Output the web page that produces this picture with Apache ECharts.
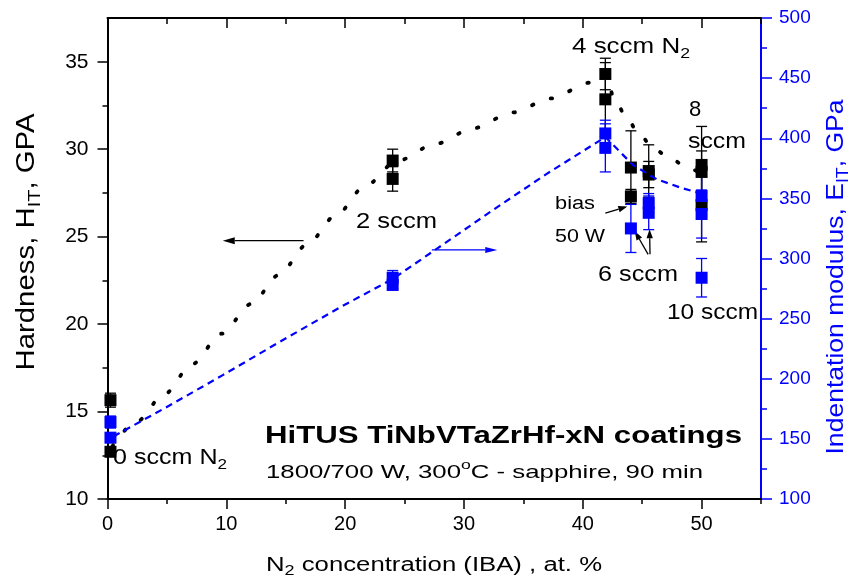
<!DOCTYPE html>
<html><head><meta charset="utf-8">
<script src="https://cdn.jsdelivr.net/npm/echarts@6/dist/echarts.min.js"></script>
<style>html,body{margin:0;padding:0;background:#fff}#c{width:854px;height:586px}</style>
</head><body><div id="c"></div>
<script>
// ---- tick values ----
const xTicks = [0, 10, 20, 30, 40, 50];
const xMinorTicks = [5, 15, 25, 35, 45, 55];
const hTicks = [10, 15, 20, 25, 30, 35];
const hMinorTicks = [12.5, 17.5, 22.5, 27.5, 32.5];
const eTicks = [100, 150, 200, 250, 300, 350, 400, 450, 500];
const eMinorTicks = [125, 175, 225, 275, 325, 375, 425, 475];

// ---- hardness (left axis) ----
const hardX   = [0.25, 0.25, 24.0, 24.0, 41.9, 41.9, 44.05, 44.05, 45.55, 45.55, 50, 50, 50];
const hardVal = [15.65, 12.7, 29.35, 28.3, 34.3, 32.85, 28.95, 27.3, 28.75, 28.55, 29.1, 28.7, 26.8];
const hardErr = [0.4, 0.2, 0.65, 0.7, 0.9, 2.1, 2.1, 0.4, 1.5, 0.75, 2.2, 1.2, 2.1];

// ---- indentation modulus (right axis) ----
const modX   = [0.25, 0.25, 24.0, 24.0, 41.9, 41.9, 44.05, 45.55, 45.55, 50, 50, 50];
const modVal = [164, 151, 284, 278, 404, 392, 325, 346, 338, 352, 337, 284];
const modErr = [5, 4, 6, 3, 11, 20, 20, 8, 14, 16, 20, 16];

// ---- trend lines ----
const hardTrendX   = [0.4, 2.4, 4.8, 7.1, 9.6, 12.1, 14.4, 16.8, 19.2, 21.7, 24.3, 27.6, 30.8, 34.1, 37.3, 40.6, 41.9, 42.7, 43.7, 44.7, 46.0, 47.4, 48.9, 50];
const hardTrendVal = [13.0, 14.4, 16.0, 17.7, 19.45, 21.15, 22.8, 24.55, 26.2, 27.9, 29.3, 30.3, 31.2, 32.1, 32.9, 33.8, 34.3, 32.8, 31.8, 30.9, 30.0, 29.45, 28.9, 28.6];
const modTrendX   = [0.5, 4.9, 9.7, 14.2, 19.5, 24.0, 27.7, 32.4, 36.9, 41.9, 44.2, 46.2, 48.2, 50];
const modTrendVal = [152, 176, 203, 229, 259, 283, 308, 340, 370, 401, 378, 366, 359, 354];

const FONT = '"Liberation Sans", Arial, sans-serif';
const BLUE = '#0000ff';
const BLACK = '#000000';

const chart = echarts.init(document.getElementById('c'), null, {renderer: 'canvas'});

function xAxisCfg(pos, ticks, len, inside, line, labels) {
  return {
    type: 'value', gridIndex: 0, position: pos, min: 0, max: 55, interval: 10,
    axisLine: {show: line, onZero: false, lineStyle: {color: BLACK, width: 2}},
    axisTick: {show: true, inside: inside, length: len, customValues: ticks, lineStyle: {color: BLACK, width: 1.5}},
    axisLabel: labels ? {show: true, customValues: xTicks, fontSize: 20, fontFamily: FONT, color: BLACK, margin: 15}
                      : {show: false},
    minorTick: {show: false}, splitLine: {show: false}
  };
}
function yAxisCfg(pos, min, max, interval, ticks, len, color, line, labels, fs, margin) {
  return {
    type: 'value', gridIndex: 0, position: pos, min: min, max: max, interval: interval,
    axisLine: {show: line, onZero: false, lineStyle: {color: color, width: 2}},
    axisTick: {show: true, inside: false, length: len, customValues: ticks, lineStyle: {color: color, width: 1.5}},
    axisLabel: labels ? {show: true, customValues: labels, fontSize: fs, fontFamily: FONT, color: color, margin: margin}
                      : {show: false},
    minorTick: {show: false}, splitLine: {show: false}
  };
}

function errSeries(xs, vs, es, yAxisIndex, color) {
  return {
    type: 'custom', xAxisIndex: 0, yAxisIndex: yAxisIndex, silent: true,
    data: xs.map((x, i) => [x, vs[i], es[i]]),
    encode: {x: 0, y: 1},
    renderItem: function (params, api) {
      const x = api.value(0), v = api.value(1), e = api.value(2);
      const t = api.coord([x, v + e]), b = api.coord([x, v - e]);
      const hw = 5.5, st = {stroke: color, lineWidth: 1.3};
      return {type: 'group', children: [
        {type: 'line', shape: {x1: t[0], y1: t[1], x2: b[0], y2: b[1]}, style: st},
        {type: 'line', shape: {x1: t[0] - hw, y1: t[1], x2: t[0] + hw, y2: t[1]}, style: st},
        {type: 'line', shape: {x1: b[0] - hw, y1: b[1], x2: b[0] + hw, y2: b[1]}, style: st}
      ]};
    }
  };
}
function pointSeries(xs, vs, yAxisIndex, color) {
  return {
    type: 'scatter', xAxisIndex: 0, yAxisIndex: yAxisIndex, symbol: 'rect', symbolSize: 12,
    itemStyle: {color: color, opacity: 1, borderWidth: 0}, silent: true,
    data: xs.map((x, i) => [x, vs[i]])
  };
}

const option = {
  animation: false,
  backgroundColor: '#ffffff',
  grid: {left: 107.5, right: 93, top: 18, bottom: 87, containLabel: false},
  xAxis: [
    xAxisCfg('bottom', xTicks, 10, false, true, true),
    xAxisCfg('bottom', xMinorTicks, 5, false, false, false),
    xAxisCfg('top', xTicks, 10, true, true, false),
    xAxisCfg('top', xMinorTicks, 6, true, false, false)
  ],
  yAxis: [
    yAxisCfg('left', 10, 37.5, 5, hTicks, 10, BLACK, true, hTicks, 21, 19),
    yAxisCfg('right', 100, 500, 50, eTicks, 11, BLUE, true, eTicks, 19, 18),
    yAxisCfg('left', 10, 37.5, 5, hMinorTicks, 5, BLACK, false, null),
    yAxisCfg('right', 100, 500, 50, eMinorTicks, 6, BLUE, false, null)
  ],
  series: [
    {type: 'line', xAxisIndex: 0, yAxisIndex: 0, symbol: 'none', showSymbol: false, silent: true,
     smooth: 0.3, smoothMonotone: 'x',
     lineStyle: {color: BLACK, width: 3.8, type: [1.5, 18.5], cap: 'round'},
     data: hardTrendX.map((x, i) => [x, hardTrendVal[i]])},
    {type: 'line', xAxisIndex: 0, yAxisIndex: 1, symbol: 'none', showSymbol: false, silent: true,
     smooth: false,
     lineStyle: {color: BLUE, width: 2.2, type: [7, 5]},
     data: modTrendX.map((x, i) => [x, modTrendVal[i]])},
    errSeries(hardX, hardVal, hardErr, 0, BLACK),
    pointSeries(hardX, hardVal, 0, BLACK),
    errSeries(modX, modVal, modErr, 1, BLUE),
    pointSeries(modX, modVal, 1, BLUE)
  ]
};
chart.setOption(option);

// ---- text helpers ----
const mctx = document.createElement('canvas').getContext('2d');
function measure(t, font) { mctx.font = font; return mctx.measureText(t).width; }
function makeLabel(o) {
  const size = o.size, weight = o.bold ? 'bold ' : '';
  let xc = 0; const kids = [];
  o.parts.forEach(p => {
    const small = p.sub || p.sup;
    const fs = small ? Math.round(size * 0.68) : size;
    const font = weight + fs + 'px ' + FONT;
    const dy = p.sub ? size * 0.33 : (p.sup ? -size * 0.42 : 0);
    kids.push({type: 'text', x: xc, y: dy, silent: true,
      style: {text: p.t, font: font, fill: o.color || BLACK, textAlign: 'left', align: 'left',
              textVerticalAlign: 'middle', verticalAlign: 'middle'}});
    xc += measure(p.t, font);
  });
  const sx = o.width ? o.width / xc : 1;
  if (o.align === 'center') kids.forEach(k => { k.x -= xc / 2; });
  return {type: 'group', x: o.x, y: o.y, rotation: o.rotation || 0, scaleX: sx, scaleY: 1, children: kids};
}
const P = (x, y) => chart.convertToPixel({xAxisIndex: 0, yAxisIndex: 0}, [x, y]);
function arrow(from, to, color, hl, hw) {
  const a = P(from[0], from[1]), b = P(to[0], to[1]);
  const dx = b[0] - a[0], dy = b[1] - a[1], L = Math.hypot(dx, dy);
  const ux = dx / L, uy = dy / L;
  const bx = b[0] - ux * hl, by = b[1] - uy * hl;
  return [
    {type: 'line', silent: true, shape: {x1: a[0], y1: a[1], x2: bx, y2: by}, style: {stroke: color, lineWidth: 1.3}},
    {type: 'polygon', silent: true, shape: {points: [[b[0], b[1]], [bx - uy * hw, by + ux * hw], [bx + uy * hw, by - ux * hw]]},
     style: {fill: color}}
  ];
}

const labels = [
  // axis titles
  makeLabel({x: 27, y: 242, rotation: Math.PI / 2, align: 'center', size: 25, width: 257,
    parts: [{t: 'Hardness, H'}, {t: 'IT', sub: true}, {t: ', GPA'}]}),
  makeLabel({x: 836, y: 277, rotation: Math.PI / 2, align: 'center', size: 24, width: 355, color: BLUE,
    parts: [{t: 'Indentation modulus, E'}, {t: 'IT', sub: true}, {t: ', GPa'}]}),
  makeLabel({x: 266, y: 565, size: 20, width: 336,
    parts: [{t: 'N'}, {t: '2', sub: true}, {t: ' concentration (IBA) , at. %'}]}),
  // in-plot annotations
  makeLabel({x: 265, y: 437, size: 23, bold: true, width: 477, parts: [{t: 'HiTUS TiNbVTaZrHf-xN coatings'}]}),
  makeLabel({x: 266, y: 473, size: 19, width: 437,
    parts: [{t: '1800/700 W, 300'}, {t: 'o', sup: true}, {t: 'C - sapphire, 90 min'}]}),
  makeLabel({x: 572, y: 47, size: 22, width: 118, parts: [{t: '4 sccm N'}, {t: '2', sub: true}]}),
  makeLabel({x: 695, y: 110, size: 22, align: 'center', parts: [{t: '8'}]}),
  makeLabel({x: 688, y: 142, size: 22, width: 58, parts: [{t: 'sccm'}]}),
  makeLabel({x: 667, y: 313, size: 22, width: 91, parts: [{t: '10 sccm'}]}),
  makeLabel({x: 598, y: 275, size: 22, width: 80, parts: [{t: '6 sccm'}]}),
  makeLabel({x: 555, y: 204, size: 18, width: 40, parts: [{t: 'bias'}]}),
  makeLabel({x: 555, y: 237, size: 18, width: 50, parts: [{t: '50 W'}]}),
  makeLabel({x: 356, y: 222, size: 22, width: 81, parts: [{t: '2 sccm'}]}),
  makeLabel({x: 113, y: 458, size: 22, width: 114, parts: [{t: '0 sccm N'}, {t: '2', sub: true}]})
];

const arrows = [].concat(
  arrow([16.5, 24.77], [9.7, 24.77], BLACK, 12, 3.5),
  arrow([27.3, 24.24], [32.8, 24.24], BLUE, 12, 3),
  arrow([41.9, 26.34], [43.75, 26.72], BLACK, 9, 3.2),
  arrow([45.5, 23.99], [44.38, 25.31], BLACK, 9, 3.2),
  arrow([45.66, 23.99], [45.62, 25.42], BLACK, 9, 3.2)
);

chart.setOption({graphic: {elements: labels.concat(arrows)}});
</script>
</body></html>
